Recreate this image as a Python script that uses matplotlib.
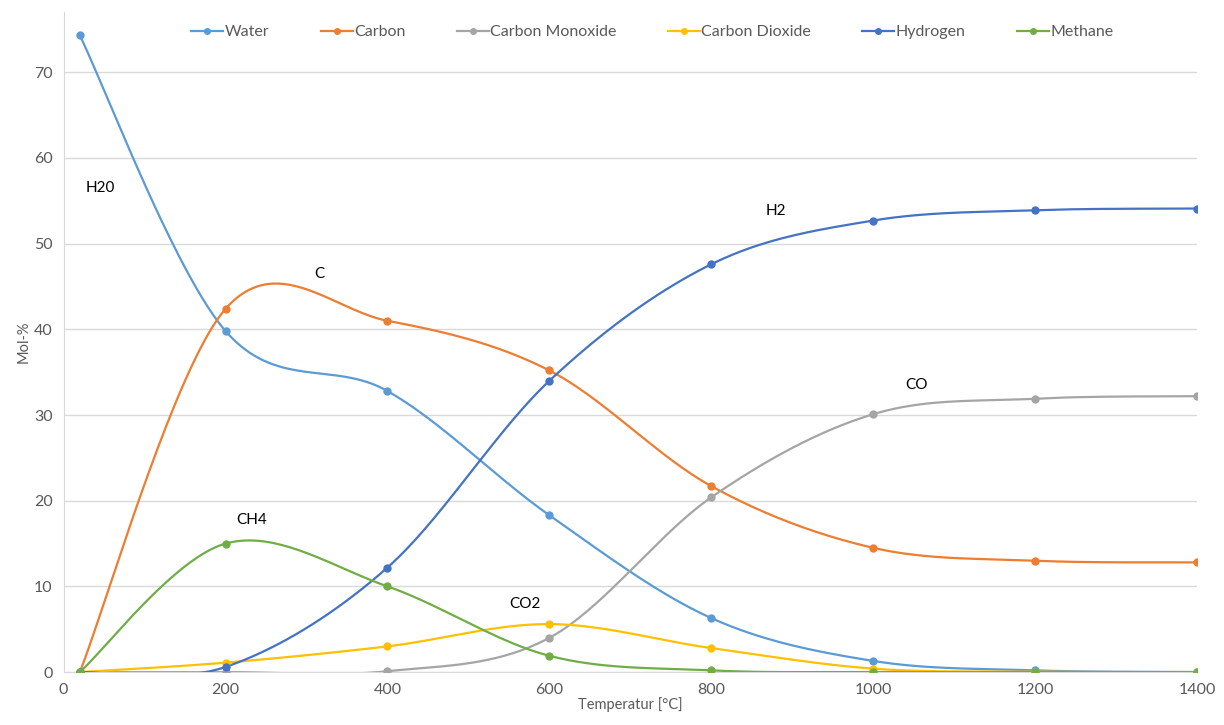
import numpy as np
import matplotlib.pyplot as plt

plt.rcParams['font.family'] = ['Lato', 'DejaVu Sans']

# Temperatures [°C]
temps = [20, 200, 400, 600, 800, 1000, 1200, 1400]

# Mol-% per species
water = [74.3, 39.8, 32.8, 18.3, 6.3, 1.3, 0.2, 0.0]
carbon = [0.0, 42.4, 41.0, 35.2, 21.7, 14.5, 13.0, 12.8]
carbon_monoxide = [0.0, 0.0, 0.1, 4.0, 20.4, 30.1, 31.9, 32.2]
carbon_dioxide = [0.0, 1.1, 3.0, 5.6, 2.8, 0.4, 0.05, 0.0]
hydrogen = [0.0, 0.6, 12.2, 34.0, 47.6, 52.7, 53.9, 54.1]
methane = [0.0, 15.0, 10.0, 1.9, 0.2, 0.0, 0.0, 0.0]

series = [
    ('Water', water, '#5B9BD5'),
    ('Carbon', carbon, '#ED7D31'),
    ('Carbon Monoxide', carbon_monoxide, '#A5A5A5'),
    ('Carbon Dioxide', carbon_dioxide, '#FFC000'),
    ('Hydrogen', hydrogen, '#4472C4'),
    ('Methane', methane, '#70AD47'),
]

# Curve labels placed on the chart
labels = [('H20', 45, 56.5), ('C', 316, 46.5), ('CH4', 232, 17.8),
          ('CO2', 570, 8.0), ('H2', 880, 53.8), ('CO', 1053, 33.5)]


def smooth(x, y, n=40):
    # Excel-style smoothed line: cubic Bezier with Catmull-Rom control points
    x = np.asarray(x, float)
    y = np.asarray(y, float)
    px = np.concatenate([[x[0]], x, [x[-1]]])
    py = np.concatenate([[y[0]], y, [y[-1]]])
    xs, ys = [], []
    t = np.linspace(0, 1, n)
    for i in range(len(x) - 1):
        p0 = np.array([px[i + 1], py[i + 1]])
        p3 = np.array([px[i + 2], py[i + 2]])
        c1 = p0 + (np.array([px[i + 2], py[i + 2]]) - np.array([px[i], py[i]])) / 6
        c2 = p3 - (np.array([px[i + 3], py[i + 3]]) - np.array([px[i + 1], py[i + 1]])) / 6
        b = ((1 - t) ** 3)[:, None] * p0 + (3 * (1 - t) ** 2 * t)[:, None] * c1 \
            + (3 * (1 - t) * t ** 2)[:, None] * c2 + (t ** 3)[:, None] * p3
        xs.append(b[:, 0])
        ys.append(b[:, 1])
    return np.concatenate(xs), np.concatenate(ys)


fig = plt.figure(figsize=(12.24, 7.25), dpi=100)
ax = fig.add_axes([0.052, 0.073, 0.926, 0.91])

handles = []
for name, vals, col in series:
    sx, sy = smooth(temps, vals)
    ax.plot(sx, sy, color=col, linewidth=1.6, zorder=3)
    ax.plot(temps, vals, 'o', color=col, markersize=5, zorder=4)
    h, = ax.plot([], [], '-o', color=col, linewidth=1.6, markersize=4, label=name)
    handles.append(h)

for txt, lx, ly in labels:
    ax.text(lx, ly, txt, fontsize=11, color='black', ha='center', va='center')

ax.set_xlim(0, 1400)
ax.set_ylim(0, 77)
ax.set_xticks(range(0, 1401, 200))
ax.set_yticks(range(0, 71, 10))
ax.grid(axis='y', color='#D9D9D9', linewidth=1)
ax.set_axisbelow(True)
for s in ['top', 'right']:
    ax.spines[s].set_visible(False)
ax.spines['left'].set_color('#D9D9D9')
ax.spines['bottom'].set_color('#D9D9D9')
ax.tick_params(length=0, labelsize=11.5, colors='#595959', pad=8)
ax.set_xlabel('Temperatur [°C]', fontsize=10.5, color='#595959', labelpad=0)
ax.set_ylabel('Mol-%', fontsize=10.5, color='#595959', labelpad=2)

fig.legend(handles=handles, loc='upper center', bbox_to_anchor=(0.533, 0.985),
           ncol=6, frameon=False, fontsize=11.5, labelcolor='#595959',
           handlelength=2.0, handletextpad=0.1, columnspacing=3.2)

fig.savefig('out.png', dpi=100)
